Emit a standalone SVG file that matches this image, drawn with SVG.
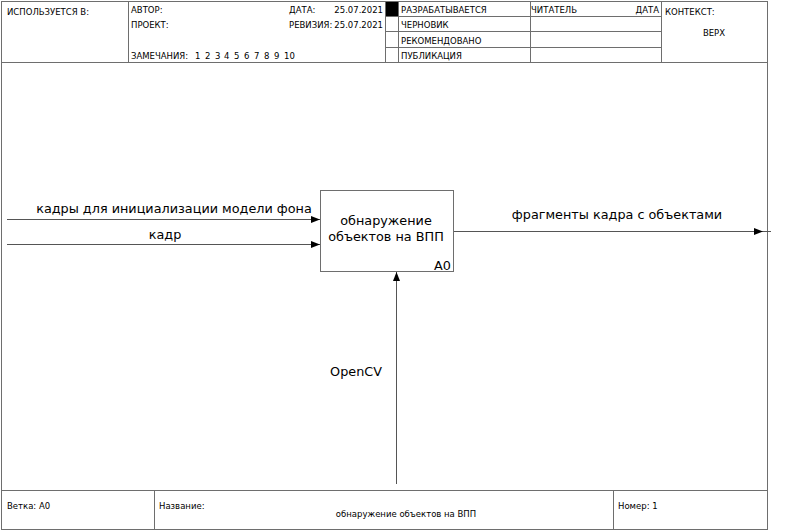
<svg xmlns="http://www.w3.org/2000/svg" width="799" height="532" viewBox="0 0 799 532">
  <style>
    .frame { fill: none; stroke: #6e6e6e; stroke-width: 1; }
    .cell { fill: none; stroke: #6e6e6e; stroke-width: 1; }
    .hdr { font-family: "DejaVu Sans", "Liberation Sans", sans-serif; font-size: 8.5px; fill: #000; }
    .lbl { font-family: "DejaVu Sans", "Liberation Sans", sans-serif; font-size: 12.8px; fill: #000; }
    .conn { fill: none; stroke: #555; stroke-width: 1; }
  </style>
  <defs>
    <marker id="arrow" viewBox="0 0 9 7" refX="9" refY="3.5" markerWidth="9" markerHeight="7" markerUnits="userSpaceOnUse" orient="auto">
      <path d="M0,0 L9,3.5 L0,7 Z" fill="#000"/>
    </marker>
  </defs>

  <rect width="799" height="532" fill="#fff"/>

  <!-- header block -->
  <g id="header">
    <rect class="frame" x="1.5" y="1.5" width="766" height="61"/>
    <line class="cell" x1="128.5" y1="1.5" x2="128.5" y2="62.5"/>
    <line class="cell" x1="385.5" y1="1.5" x2="385.5" y2="62.5"/>
    <line class="cell" x1="398.5" y1="1.5" x2="398.5" y2="62.5"/>
    <line class="cell" x1="530.5" y1="1.5" x2="530.5" y2="62.5"/>
    <line class="cell" x1="661.5" y1="1.5" x2="661.5" y2="62.5"/>
    <line class="cell" x1="385.5" y1="16.5" x2="661.5" y2="16.5"/>
    <line class="cell" x1="385.5" y1="31.5" x2="661.5" y2="31.5"/>
    <line class="cell" x1="385.5" y1="47.5" x2="661.5" y2="47.5"/>
    <rect x="386" y="2" width="12" height="14" fill="#000"/>
    <text class="hdr" x="7" y="15">ИСПОЛЬЗУЕТСЯ В:</text>
    <text class="hdr" x="131" y="13">АВТОР:</text>
    <text class="hdr" x="131" y="28">ПРОЕКТ:</text>
    <text class="hdr" x="131" y="59">ЗАМЕЧАНИЯ:</text>
    <text class="hdr" y="59"><tspan x="195">1</tspan><tspan x="205">2</tspan><tspan x="215">3</tspan><tspan x="224">4</tspan><tspan x="234">5</tspan><tspan x="244">6</tspan><tspan x="254">7</tspan><tspan x="264">8</tspan><tspan x="274">9</tspan><tspan x="284">10</tspan></text>
    <text class="hdr" x="289" y="13">ДАТА:</text>
    <text class="hdr" x="383" y="13" text-anchor="end">25.07.2021</text>
    <text class="hdr" x="289" y="28">РЕВИЗИЯ:</text>
    <text class="hdr" x="383" y="28" text-anchor="end">25.07.2021</text>
    <text class="hdr" x="401" y="13">РАЗРАБАТЫВАЕТСЯ</text>
    <text class="hdr" x="401" y="28">ЧЕРНОВИК</text>
    <text class="hdr" x="401" y="44">РЕКОМЕНДОВАНО</text>
    <text class="hdr" x="401" y="59">ПУБЛИКАЦИЯ</text>
    <text class="hdr" x="531" y="13">ЧИТАТЕЛЬ</text>
    <text class="hdr" x="659" y="13" text-anchor="end">ДАТА</text>
    <text class="hdr" x="665" y="15">КОНТЕКСТ:</text>
    <text class="hdr" x="714" y="36" text-anchor="middle">ВЕРХ</text>
  </g>

  <!-- drawing area border -->
  <g id="canvas">
    <line class="frame" x1="1.5" y1="62.5" x2="1.5" y2="490.5"/>
    <line class="frame" x1="767.5" y1="62.5" x2="767.5" y2="490.5"/>
  </g>

  <!-- footer block -->
  <g id="footer">
    <rect class="frame" x="1.5" y="490.5" width="766" height="39"/>
    <line class="cell" x1="154.5" y1="490.5" x2="154.5" y2="529.5"/>
    <line class="cell" x1="613.5" y1="490.5" x2="613.5" y2="529.5"/>
    <text class="hdr" x="7" y="509">Ветка:  А0</text>
    <text class="hdr" x="159" y="509">Название:</text>
    <text class="hdr" x="406" y="517" text-anchor="middle">обнаружение объектов на ВПП</text>
    <text class="hdr" x="618" y="509">Номер:  1</text>
  </g>

  <!-- activity A0 -->
  <g id="A0">
    <rect x="320.5" y="190.5" width="133" height="81" fill="#fff" stroke="#6e6e6e" stroke-width="1"/>
    <text class="lbl" x="386" y="225" text-anchor="middle">обнаружение</text>
    <text class="lbl" x="386" y="241" text-anchor="middle">объектов на ВПП</text>
    <text class="lbl" x="451" y="270" text-anchor="end">А0</text>
  </g>

  <!-- connectors -->
  <g id="connectors">
    <line class="conn" x1="7" y1="219.5" x2="320" y2="219.5" marker-end="url(#arrow)"/>
    <line class="conn" x1="7" y1="244.5" x2="320" y2="244.5" marker-end="url(#arrow)"/>
    <line class="conn" x1="454" y1="231.5" x2="771" y2="231.5"/>
    <line class="conn" x1="454" y1="231.5" x2="763" y2="231.5" marker-end="url(#arrow)"/>
    <line class="conn" x1="396.5" y1="484" x2="396.5" y2="272" marker-end="url(#arrow)"/>
    <text class="lbl" x="174" y="213" text-anchor="middle">кадры для инициализации модели фона</text>
    <text class="lbl" x="165" y="239" text-anchor="middle">кадр</text>
    <text class="lbl" x="617" y="219" text-anchor="middle">фрагменты кадра с объектами</text>
    <text class="lbl" x="356" y="376" text-anchor="middle">OpenCV</text>
  </g>
</svg>
